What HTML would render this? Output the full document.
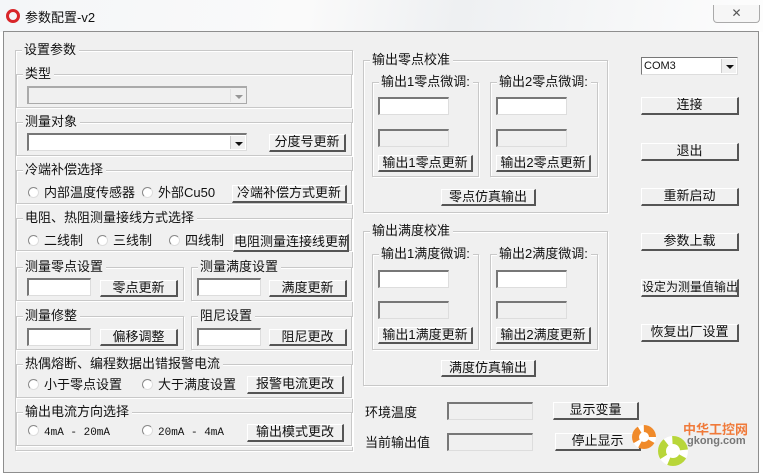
<!DOCTYPE html>
<html><head><meta charset="utf-8"><style>
*{box-sizing:border-box;margin:0;padding:0}
body{width:763px;height:475px;overflow:hidden;background:#fff;font-family:"Liberation Sans","Noto Sans CJK SC","WenQuanYi Zen Hei",sans-serif;font-size:12px;color:#111;position:relative}
.a{position:absolute}
.title{left:0;top:0;width:763px;height:32px;background:linear-gradient(100deg,#f4f6f8 0%,#fafafa 40%,#eef0f2 60%,#fdfdfd 100%)}
.win{left:3px;top:31px;width:756px;height:442px;background:#f0f0f0;border:1px solid #8e8e8e}
.g{position:absolute;border:1px solid #c8c8c8;box-shadow:inset 1px 1px 0 #fff,1px 1px 0 #fff}
.g>span{position:absolute;left:6px;top:-9px;background:#f0f0f0;padding:0 3px 0 2px;font-size:13px;line-height:16px;white-space:nowrap}
.btn{position:absolute;background:#f0f0f0;border-top:1px solid #fff;border-left:1px solid #fff;border-right:2px solid #555;border-bottom:2px solid #555;text-align:center;font-size:13px;line-height:14px;white-space:nowrap;overflow:hidden}
.in{position:absolute;background:#fff;border-top:2px solid #777;border-left:2px solid #777;border-right:1px solid #ddd;border-bottom:1px solid #ddd}
.in.d{background:#f0f0f0}
.r{position:absolute;font-size:13px;white-space:nowrap;line-height:16px}
.r i{display:inline-block;width:11px;height:11px;border-radius:50%;border:1px solid #888;border-right-color:#ddd;border-bottom-color:#ddd;background:#fff;margin-right:5px;vertical-align:-1px}
.t{position:absolute;font-size:13px;white-space:nowrap}
.dd{position:absolute;right:1px;top:1px;width:15px;bottom:1px;background:#f0f0f0;border-left:1px solid #ccc}
.dd:after{content:"";position:absolute;left:4px;top:6px;border:4px solid transparent;border-top:4px solid #111;border-bottom:0}
</style></head><body>
<div class="a title"></div>
<div class="a" style="left:6px;top:9px;width:14px;height:14px;border-radius:50%;border:3px solid #d8262a"></div>
<div class="t" style="left:25px;top:7px;font-size:13px">参数配置-v2</div>
<div class="a" style="left:713px;top:5px;width:47px;height:18px;border:1px solid #aaa;border-top:0;border-radius:0 0 4px 4px;text-align:center;color:#555;font-size:12px;line-height:16px;background:#f6f6f6">✕</div>
<div class="a win"></div>

<div class="g" style="left:15px;top:50px;width:338px;height:401px"><span>设置参数</span></div>
<div class="g" style="left:16px;top:74px;width:336px;height:34px"><span>类型</span></div>
<div class="in d" style="left:27px;top:86px;width:220px;height:18px;border-color:#aaa"><div class="dd" style="opacity:.4"></div></div>
<div class="g" style="left:16px;top:122px;width:336px;height:34px"><span>测量对象</span></div>
<div class="in" style="left:27px;top:133px;width:220px;height:18px"><div class="dd"></div></div>
<div class="btn" style="left:269px;top:134px;width:77px;height:18px">分度号更新</div>
<div class="g" style="left:16px;top:170px;width:336px;height:34px"><span>冷端补偿选择</span></div>
<div class="r" style="left:28px;top:185px"><i></i>内部温度传感器</div>
<div class="r" style="left:142px;top:185px"><i></i>外部Cu50</div>
<div class="btn" style="left:232px;top:185px;width:115px;height:18px">冷端补偿方式更新</div>
<div class="g" style="left:16px;top:218px;width:336px;height:33px"><span>电阻、热阻测量接线方式选择</span></div>
<div class="r" style="left:28px;top:233px"><i></i>二线制</div>
<div class="r" style="left:97px;top:233px"><i></i>三线制</div>
<div class="r" style="left:169px;top:233px"><i></i>四线制</div>
<div class="btn" style="left:233px;top:234px;width:116px;height:18px">电阻测量连接线更新</div>

<div class="g" style="left:16px;top:267px;width:168px;height:34px"><span>测量零点设置</span></div>
<div class="in" style="left:27px;top:278px;width:64px;height:18px"></div>
<div class="btn" style="left:100px;top:280px;width:78px;height:17px">零点更新</div>
<div class="g" style="left:191px;top:267px;width:161px;height:34px"><span>测量满度设置</span></div>
<div class="in" style="left:197px;top:278px;width:64px;height:18px"></div>
<div class="btn" style="left:269px;top:280px;width:78px;height:17px">满度更新</div>
<div class="g" style="left:16px;top:316px;width:168px;height:34px"><span>测量修整</span></div>
<div class="in" style="left:27px;top:328px;width:64px;height:18px"></div>
<div class="btn" style="left:100px;top:329px;width:78px;height:17px">偏移调整</div>
<div class="g" style="left:191px;top:316px;width:161px;height:34px"><span>阻尼设置</span></div>
<div class="in" style="left:197px;top:328px;width:64px;height:18px"></div>
<div class="btn" style="left:269px;top:329px;width:78px;height:17px">阻尼更改</div>

<div class="g" style="left:16px;top:364px;width:336px;height:34px"><span>热偶熔断、编程数据出错报警电流</span></div>
<div class="r" style="left:28px;top:377px"><i></i>小于零点设置</div>
<div class="r" style="left:142px;top:377px"><i></i>大于满度设置</div>
<div class="btn" style="left:247px;top:376px;width:97px;height:18px">报警电流更改</div>
<div class="g" style="left:16px;top:412px;width:336px;height:34px"><span>输出电流方向选择</span></div>
<div class="r" style="left:28px;top:425px;font-family:'Liberation Mono',monospace;font-size:11px"><i></i>4mA - 20mA</div>
<div class="r" style="left:142px;top:425px;font-family:'Liberation Mono',monospace;font-size:11px"><i></i>20mA - 4mA</div>
<div class="btn" style="left:247px;top:424px;width:97px;height:18px">输出模式更改</div>

<div class="g" style="left:363px;top:60px;width:245px;height:153px"><span>输出零点校准</span></div>
<div class="g" style="left:372px;top:82px;width:107px;height:95px"><span>输出1零点微调:</span></div>
<div class="g" style="left:490px;top:82px;width:108px;height:95px"><span>输出2零点微调:</span></div>
<div class="in" style="left:378px;top:97px;width:71px;height:18px"></div>
<div class="in d" style="left:378px;top:129px;width:71px;height:18px"></div>
<div class="in" style="left:496px;top:97px;width:71px;height:18px"></div>
<div class="in d" style="left:496px;top:129px;width:71px;height:18px"></div>
<div class="btn" style="left:378px;top:155px;width:95px;height:17px">输出1零点更新</div>
<div class="btn" style="left:496px;top:155px;width:95px;height:17px">输出2零点更新</div>
<div class="btn" style="left:441px;top:189px;width:95px;height:17px">零点仿真输出</div>

<div class="g" style="left:363px;top:231px;width:245px;height:155px"><span>输出满度校准</span></div>
<div class="g" style="left:372px;top:254px;width:107px;height:96px"><span>输出1满度微调:</span></div>
<div class="g" style="left:490px;top:254px;width:108px;height:96px"><span>输出2满度微调:</span></div>
<div class="in" style="left:378px;top:270px;width:71px;height:18px"></div>
<div class="in d" style="left:378px;top:301px;width:71px;height:18px"></div>
<div class="in" style="left:496px;top:270px;width:71px;height:18px"></div>
<div class="in d" style="left:496px;top:301px;width:71px;height:18px"></div>
<div class="btn" style="left:378px;top:327px;width:95px;height:17px">输出1满度更新</div>
<div class="btn" style="left:496px;top:327px;width:95px;height:17px">输出2满度更新</div>
<div class="btn" style="left:441px;top:360px;width:95px;height:17px">满度仿真输出</div>

<div class="t" style="left:365px;top:402px">环境温度</div>
<div class="in d" style="left:447px;top:402px;width:86px;height:18px"></div>
<div class="btn" style="left:553px;top:402px;width:86px;height:18px">显示变量</div>
<div class="t" style="left:365px;top:432px">当前输出值</div>
<div class="in d" style="left:447px;top:433px;width:86px;height:18px"></div>
<div class="btn" style="left:555px;top:433px;width:86px;height:18px">停止显示</div>

<div class="in" style="left:641px;top:57px;width:97px;height:18px;border-width:1px;border-color:#777 #ddd #ddd #777"><span style="position:absolute;left:2px;top:1px;font-size:11px;line-height:14px">COM3</span><div class="dd"></div></div>
<div class="btn" style="left:641px;top:97px;width:98px;height:18px">连接</div>
<div class="btn" style="left:641px;top:143px;width:98px;height:18px">退出</div>
<div class="btn" style="left:641px;top:188px;width:98px;height:18px">重新启动</div>
<div class="btn" style="left:641px;top:233px;width:98px;height:18px">参数上载</div>
<div class="btn" style="left:641px;top:279px;width:98px;height:18px;font-size:12px">设定为测量值输出</div>
<div class="btn" style="left:641px;top:324px;width:98px;height:18px">恢复出厂设置</div>

<div class="a" style="left:632px;top:425px;width:24px;height:24px;border-radius:50%;border:7px dashed #f08a2a;background:#fff"></div>
<div class="a" style="left:658px;top:436px;width:30px;height:30px;border-radius:50%;border:8px dashed #b8d63a;background:#fff"></div>
<div class="t" style="left:683px;top:419px;color:#f07a3a;font-weight:bold;font-size:13px">中华工控网</div>
<div class="t" style="left:687px;top:435px;color:#777;font-size:11px;font-weight:bold">gkong.com</div>
</body></html>
